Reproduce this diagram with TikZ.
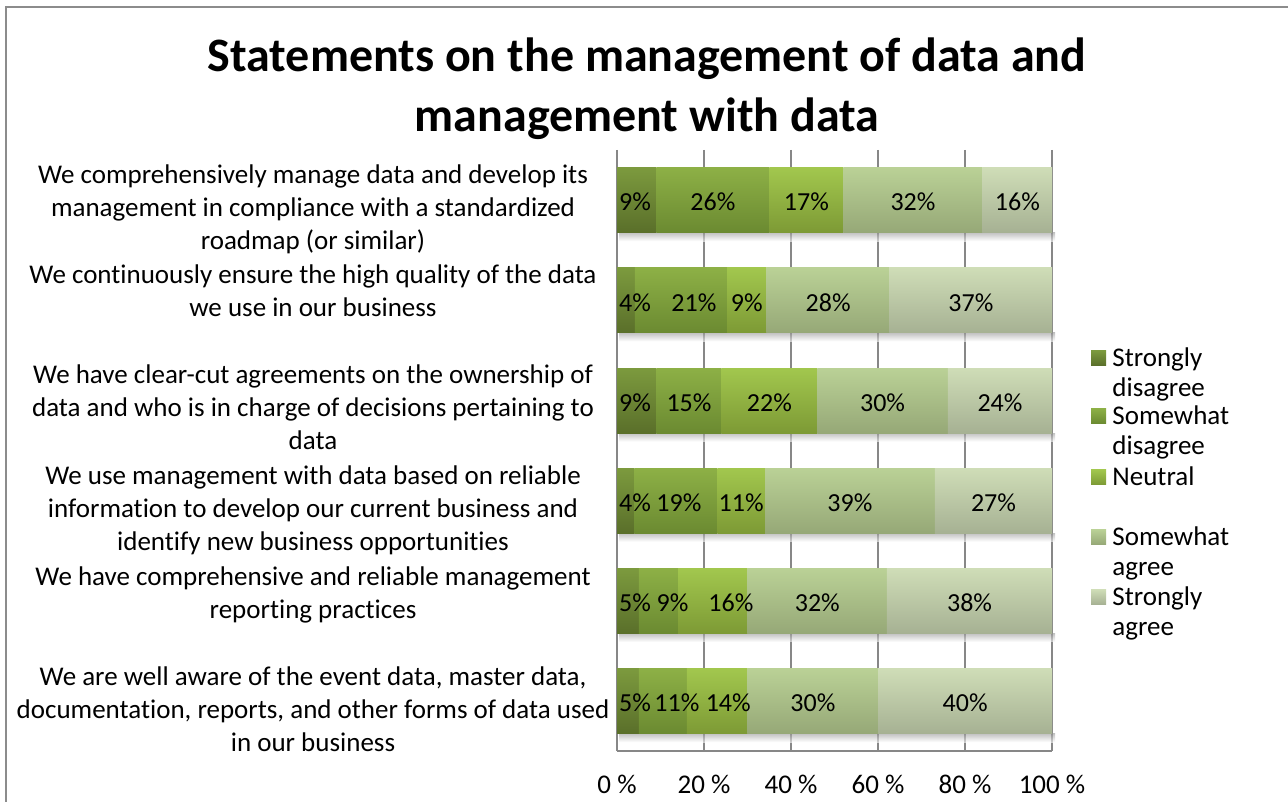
\documentclass[tikz,border=0pt]{standalone}
\usepackage{fontspec}
\setmainfont{Carlito}[Ligatures=NoCommon]
\usetikzlibrary{positioning}
\definecolor{gridGray}{HTML}{878787}
\definecolor{frameGray}{HTML}{8C8C8C}
\definecolor{tone1top}{HTML}{7C9A3E}
\definecolor{tone1bot}{HTML}{5A6F2A}
\definecolor{tone2top}{HTML}{8DB046}
\definecolor{tone2bot}{HTML}{6B8A31}
\definecolor{tone3top}{HTML}{A2C74E}
\definecolor{tone3bot}{HTML}{7D9A35}
\definecolor{tone4top}{HTML}{BAD196}
\definecolor{tone4bot}{HTML}{96A877}
\definecolor{tone5top}{HTML}{CFDDB7}
\definecolor{tone5bot}{HTML}{A6B193}
\newcommand{\plotLeft}{617}
\newcommand{\plotWidth}{435}

\begin{document}
\begin{tikzpicture}[x=1pt, y=-1pt]
  \tikzset{every node/.style={inner sep=0pt, font=\fontsize{27}{33}\selectfont},
    grid line/.style={draw=gridGray, line width=1.5pt},
    segment/.style={anchor=west, minimum height=65pt},
    value/.style={font=\fontsize{26}{30}\selectfont, yshift=-2pt},
    keybox/.style={minimum width=15pt, minimum height=15pt},
    keytext/.style={align=left, font=\fontsize{27}{30}\selectfont},
    category/.style={align=center, anchor=north}}
  \useasboundingbox (0,0) rectangle (1288,802);
  \draw[draw=frameGray, line width=2pt] (6,802) -- (6,7.5) -- (1288,7.5);

  \node[align=center, anchor=north, font=\bfseries\fontsize{48}{60}\selectfont] (title) at (647,38)
    {Statements on the management of data and\\management with data};

  % grid and axis
  \foreach \p in {0,20,...,100} {
    \draw[grid line] (\plotLeft+\p*4.35,150) -- (\plotLeft+\p*4.35,751);
    \node[anchor=base] (tick\p) at (\plotLeft+\p*4.35,793) {\p~\%};
  }
  \draw[grid line] (\plotLeft,751) -- (\plotLeft+\plotWidth,751);

  % bars (value/label shift)
  \foreach \r/\total/\vals in {1/100/{9/0,26/0,17/0,32/0,16/0},
      2/99/{4/0,21/13,9/0,28/0,37/0},
      3/100/{9/0,15/0,22/0,30/0,24/0},
      4/100/{4/0,19/3,11/0,39/0,27/0},
      5/100/{5/0,9/14,16/18,32/0,38/0},
      6/100/{5/0,11/14,14/11,30/0,40/0}} {
    \pgfmathsetmacro{\yc}{150+(\r-0.5)*100.2}
    \shade[top color=black!40, bottom color=white, opacity=0.6]
      (\plotLeft+2,\yc+32.5) rectangle (\plotLeft+\plotWidth+3,\yc+41);
    \gdef\runSum{0}
    \foreach \v/\dx [count=\k] in \vals {
      \pgfmathsetmacro{\xa}{\plotLeft+\runSum/\total*\plotWidth}
      \pgfmathsetmacro{\segw}{\v/\total*\plotWidth}
      \node[segment, minimum width=\segw pt, top color=tone\k top, bottom color=tone\k bot]
        (seg\r-\k) at (\xa,\yc) {};
      \pgfmathsetmacro{\tmpSum}{\runSum+\v}
      \xdef\runSum{\tmpSum}
    }
    \foreach \v/\dx [count=\k] in \vals {
      \ifnum\k=1
        \node[value, anchor=west] (val\r-\k) at ([xshift=2pt]seg\r-\k.west) {\v\%};
      \else
        \node[value] (val\r-\k) at ([xshift=\dx pt]seg\r-\k.center) {\v\%};
      \fi
    }
  }

  % category labels
  \node[category] (cat1) at (313,165) {We comprehensively manage data and develop its\\management in compliance with a standardized\\roadmap (or similar)};
  \node[category] (cat2) at (313,265) {We continuously ensure the high quality of the data\\we use in our business};
  \node[category] (cat3) at (313,365) {We have clear-cut agreements on the ownership of\\data and who is in charge of decisions pertaining to\\data};
  \node[category] (cat4) at (313,466) {We use management with data based on reliable\\information to develop our current business and\\identify new business opportunities};
  \node[category] (cat5) at (313,567) {We have comprehensive and reliable management\\reporting practices};
  \node[category] (cat6) at (313,667) {We are well aware of the event data, master data,\\documentation, reports, and other forms of data used\\in our business};

  % legend
  \foreach \k/\txt/\yy in {1/{Strongly\\disagree}/358, 2/{Somewhat\\disagree}/416,
      3/{Neutral}/477, 4/{Somewhat\\agree}/537, 5/{Strongly\\agree}/597} {
    \node[keybox, top color=tone\k top, bottom color=tone\k bot] (key\k) at (1098.5,\yy) {};
    \node[keytext, right=6pt of key\k.north east, anchor=north west, yshift=3pt] (keylab\k) {\txt};
  }
\end{tikzpicture}
\end{document}
